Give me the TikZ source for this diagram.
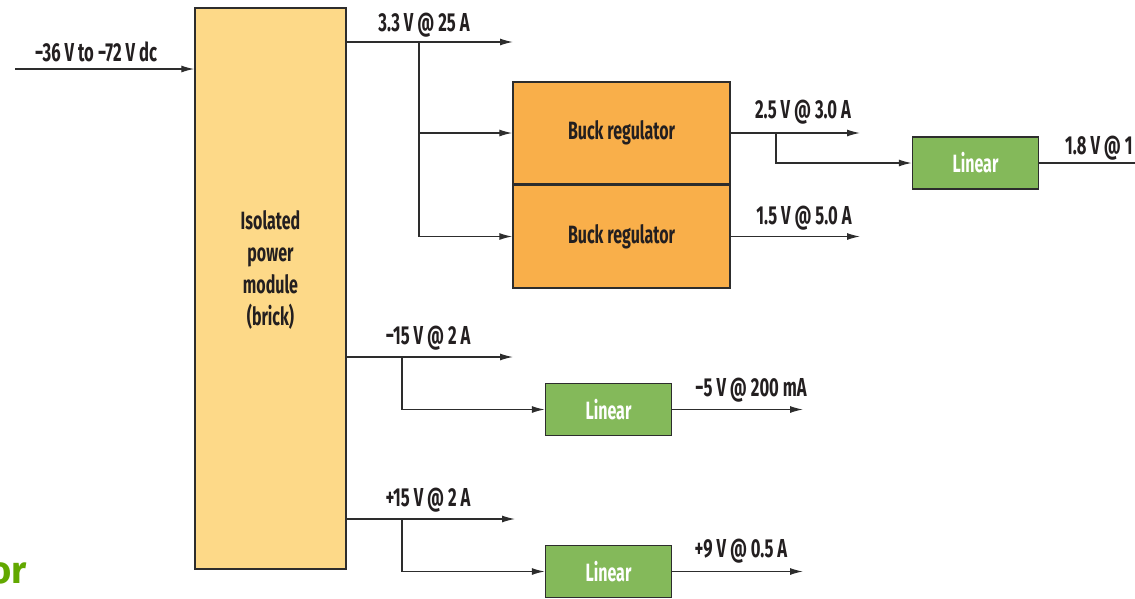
\documentclass[tikz,border=0pt]{standalone}
\usepackage{fontspec}
\setmainfont{Fira Sans}[FakeStretch=0.64]
\newfontfamily\orfont{Fira Sans}
\usetikzlibrary{arrows.meta}
\definecolor{brickfill}{RGB}{253,217,136}
\definecolor{buckfill}{RGB}{249,175,74}
\definecolor{linfill}{RGB}{132,185,90}
\definecolor{edge}{RGB}{45,45,45}
\definecolor{labelc}{RGB}{35,31,32}
\definecolor{orgreen}{RGB}{98,168,0}
\begin{document}
\begin{tikzpicture}[x=1pt,y=-1pt,
  box/.style={draw=edge,line width=1.4pt,inner sep=0pt,font=\bfseries\fontsize{25}{28}\selectfont,text=labelc},
  brickbox/.style={box,fill=brickfill,minimum width=151pt,minimum height=561pt},
  buckbox/.style={box,fill=buckfill,minimum width=217pt},
  linbox/.style={box,fill=linfill,minimum width=126pt,minimum height=52pt,text=white},
  lbl/.style={font=\bfseries\fontsize{26}{28}\selectfont,text=labelc,inner sep=0pt},
  arr/.style={draw=edge,line width=1.3pt,-{Latex[length=13pt,width=7pt]}},
  wire/.style={draw=edge,line width=1.3pt}]
\useasboundingbox (0,0) rectangle (1135,598);
% blocks
\node[brickbox] (brick) at (270.5,288.5) {};
\node[lbl,align=center,font=\bfseries\fontsize{25}{32}\selectfont] (bricklabel) at (270.5,270) {Isolated\\power\\module\\(brick)};
\node[buckbox,minimum height=102pt] (buck1) at (621.5,133) {Buck regulator};
\node[buckbox,minimum height=103pt] (buck2) at (621.5,236.5) {Buck regulator};
\node[linbox] (lin1) at (975.5,163) {Linear};
\node[linbox] (lin2) at (608.5,409.5) {Linear};
\node[linbox] (lin3) at (608.5,571.5) {Linear};
% coordinates
\coordinate (in) at (15,69);
\coordinate (o33) at (513,42);
\coordinate (j33) at (419,42);
\coordinate (o25) at (860,133);
\coordinate (j25) at (776,133);
\coordinate (o15) at (860,236.5);
\coordinate (o18) at (1152,163);
\coordinate (om15) at (513,357);
\coordinate (jm15) at (402,357);
\coordinate (om5) at (803,409.5);
\coordinate (op15) at (515,519);
\coordinate (jp15) at (402,519);
\coordinate (op9) at (803,571.5);
% connectors
\draw[arr] (in) -- (brick.west |- in);
\draw[arr] (brick.east |- o33) -- (o33);
\draw[arr] (j33) |- (buck1.west);
\draw[arr] (j33) |- (buck2.west);
\draw[arr] (buck1.east) -- (o25);
\draw[arr] (j25) |- (lin1.west);
\draw[arr] (buck2.east) -- (o15);
\draw[arr] (lin1.east) -- (o18);
\draw[arr] (brick.east |- om15) -- (om15);
\draw[arr] (jm15) |- (lin2.west);
\draw[arr] (lin2.east) -- (om5);
\draw[arr] (brick.east |- op15) -- (op15);
\draw[arr] (jp15) |- (lin3.west);
\draw[arr] (lin3.east) -- (op9);
% labels
\node[lbl] (lin) at (96,52) {−36 V to −72 V dc};
\node[lbl] (l33) at (424,25) {3.3 V @ 25 A};
\node[lbl] (l25) at (803,112) {2.5 V @ 3.0 A};
\node[lbl] (l15) at (804,218) {1.5 V @ 5.0 A};
\node[lbl,anchor=west] (l18) at (1065,148) {1.8 V @ 1};
\node[lbl] (lm15) at (428,338) {−15 V @ 2 A};
\node[lbl] (lm5) at (751,390) {−5 V @ 200 mA};
\node[lbl] (lp15) at (428,500) {+15 V @ 2 A};
\node[lbl] (lp9) at (741,551) {+9 V @ 0.5 A};
\node[font=\orfont\bfseries\fontsize{38}{40}\selectfont,text=orgreen,anchor=base east,inner sep=0pt] (ortext) at (27,583) {or};
\end{tikzpicture}
\end{document}
